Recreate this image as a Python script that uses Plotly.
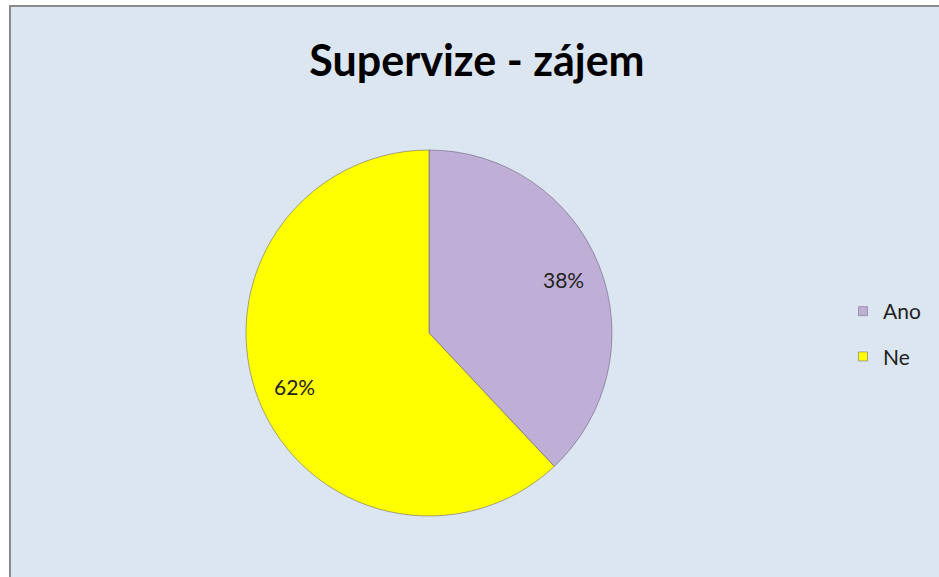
import math
import plotly.graph_objects as go

labels = ["Ano", "Ne"]
values = [38, 62]
colors = ["#bfaed5", "#ffff00"]
title_text = "Supervize - zájem"

W, H = 939, 577

# pie geometry (pixels)
pie_x0, pie_x1 = 246, 612
pie_top, pie_bot = 149, 517
cx, cy = (pie_x0 + pie_x1) / 2, (pie_top + pie_bot) / 2
R = (pie_x1 - pie_x0) / 2

fig = go.Figure()
fig.add_trace(go.Pie(
    labels=labels,
    values=values,
    sort=False,
    direction="clockwise",
    rotation=0,
    marker=dict(colors=colors, line=dict(color="rgba(90,80,110,0.5)", width=1)),
    textinfo="none",
    domain=dict(x=[pie_x0 / W, pie_x1 / W], y=[(H - pie_bot) / H, (H - pie_top) / H]),
    hoverinfo="label+percent",
    showlegend=False,
))

# legend entries via dummy traces (allows spacing control)
for lab, col in zip(labels, colors):
    fig.add_trace(go.Scatter(
        x=[None], y=[None], mode="markers", name=lab, legendgroup=lab,
        marker=dict(symbol="square", size=9, color=col,
                    line=dict(color="rgba(120,110,140,0.6)", width=1)),
        showlegend=True,
    ))

# percentage labels placed at slice mid-angles
total = sum(values)
cum = 0
annotations = []
for v in values:
    mid = (cum + v / 2) / total * 2 * math.pi
    cum += v
    r = 0.79 * R
    px = cx + r * math.sin(mid)
    py = cy - r * math.cos(mid)
    annotations.append(dict(
        x=px / W, y=1 - py / H, xref="paper", yref="paper",
        text=f"{round(100 * v / total)}%", showarrow=False,
        font=dict(family="Lato", size=21, color="#222222"),
        xanchor="center", yanchor="middle",
    ))

fig.update_layout(
    width=W, height=H,
    margin=dict(l=0, r=0, t=0, b=0),
    paper_bgcolor="white",
    plot_bgcolor="rgba(0,0,0,0)",
    xaxis=dict(visible=False),
    yaxis=dict(visible=False),
    annotations=annotations,
    title=dict(text="<b>" + title_text + "</b>", x=477 / W, xanchor="center",
               y=1 - 61 / H, yanchor="middle",
               font=dict(family="Lato", size=43, color="black")),
    legend=dict(x=843 / W, y=1 - 291 / H, xanchor="left", yanchor="top",
                font=dict(family="Lato", size=21, color="#222222"),
                bgcolor="rgba(0,0,0,0)", itemwidth=30, tracegroupgap=15),
    shapes=[dict(type="rect", xref="paper", yref="paper",
                 x0=10 / W, x1=1.2, y0=-0.2, y1=1 - 6 / H,
                 fillcolor="#dce6f1", line=dict(color="#8a8a8a", width=2),
                 layer="below")],
)

fig.write_html("out.html")
